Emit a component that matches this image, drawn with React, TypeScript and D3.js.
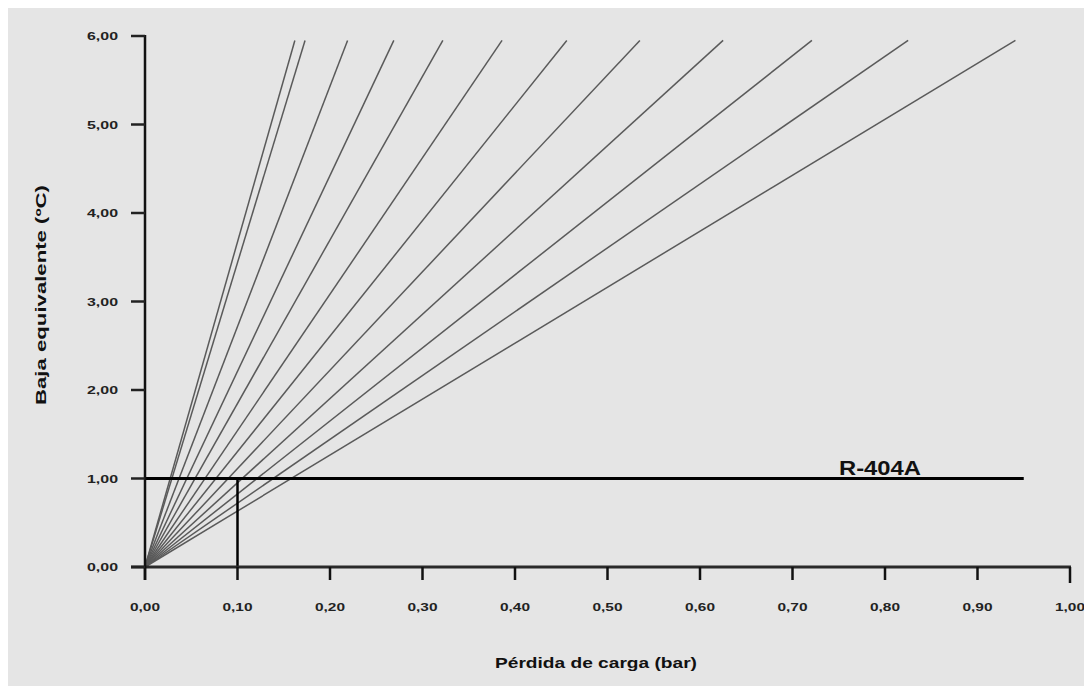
import React from "react";
import * as d3 from "d3";

const xTicks = [0, 0.1, 0.2, 0.3, 0.4, 0.5, 0.6, 0.7, 0.8, 0.9, 1.0];
const yTicks = [0, 1, 2, 3, 4, 5, 6];
// end points (x = pressure drop in bar) of each line, all ending at y = lineTopY
const lineEndX = [0.162, 0.173, 0.219, 0.269, 0.322, 0.386, 0.456, 0.535, 0.625, 0.721, 0.825, 0.941];
const lineTopY = 5.95;
const refY = 1.0;
const refX = 0.1;
const refLineEndX = 0.95;
const refLabel = "R-404A";
const xTitle = "Pérdida de carga (bar)";
const yTitle = "Baja equivalente (ºC)";

const fmt = (v: number) => v.toFixed(2).replace(".", ",");

export default function App() {
  const W = 1076, H = 678;
  const x = d3.scaleLinear().domain([0, 1]).range([145, 1070]);
  const y = d3.scaleLinear().domain([0, 6]).range([567, 36]);
  const line = d3.line<[number, number]>().x(d => x(d[0])).y(d => y(d[1]));
  const font = "'Liberation Sans', Arial, sans-serif";
  return (
    <svg width={W} height={H} style={{ display: "block", position: "fixed", left: 8, top: 8 }}>
      <g transform="translate(-8,-8)">
        <rect x={8} y={8} width={W} height={H} fill="#e5e5e5" />
        {/* sloped lines */}
        {lineEndX.map((ex, i) => (
          <path key={i} d={line([[0, 0], [ex, lineTopY]]) || ""} stroke="#5a5a5a" strokeWidth={1.5} fill="none" />
        ))}
        {/* reference lines */}
        <path d={line([[0, refY], [refLineEndX, refY]]) || ""} stroke="#000" strokeWidth={3} fill="none" />
        <path d={line([[refX, 0], [refX, refY]]) || ""} stroke="#000" strokeWidth={2.5} fill="none" />
        <text x={880} y={475} textAnchor="middle" fontFamily={font} fontWeight="bold" fontSize={21}
          textLength={82} lengthAdjust="spacingAndGlyphs" fill="#111">{refLabel}</text>
        {/* x axis */}
        <line x1={131} x2={x(1) + 1} y1={y(0)} y2={y(0)} stroke="#2a2a2a" strokeWidth={3} />
        {xTicks.map((t, i) => (
          <g key={i}>
            <line x1={x(t)} x2={x(t)} y1={y(0)} y2={y(0) + (i === xTicks.length - 1 ? 16 : 13)} stroke="#111" strokeWidth={2.5} />
            <text x={x(t)} y={611} textAnchor="middle" fontFamily={font} fontWeight="bold" fontSize={11}
              textLength={30} lengthAdjust="spacingAndGlyphs" fill="#222">{fmt(t)}</text>
          </g>
        ))}
        {/* y axis */}
        <line x1={x(0)} x2={x(0)} y1={y(6) - 1} y2={y(0) + 13} stroke="#111" strokeWidth={2.5} />
        {yTicks.map((t, i) => (
          <g key={i}>
            <line x1={131} x2={x(0)} y1={y(t)} y2={y(t)} stroke="#222" strokeWidth={2.5} />
            <text x={118} y={y(t) + 4} textAnchor="end" fontFamily={font} fontWeight="bold" fontSize={11}
              textLength={31} lengthAdjust="spacingAndGlyphs" fill="#222">{fmt(t)}</text>
          </g>
        ))}
        {/* titles */}
        <text x={596} y={668} textAnchor="middle" fontFamily={font} fontWeight="bold" fontSize={15}
          textLength={202} lengthAdjust="spacingAndGlyphs" fill="#111">{xTitle}</text>
        <text transform="translate(46,295) rotate(-90)" textAnchor="middle" fontFamily={font} fontWeight="bold" fontSize={14}
          textLength={220} lengthAdjust="spacingAndGlyphs" fill="#111">{yTitle}</text>
      </g>
    </svg>
  );
}
